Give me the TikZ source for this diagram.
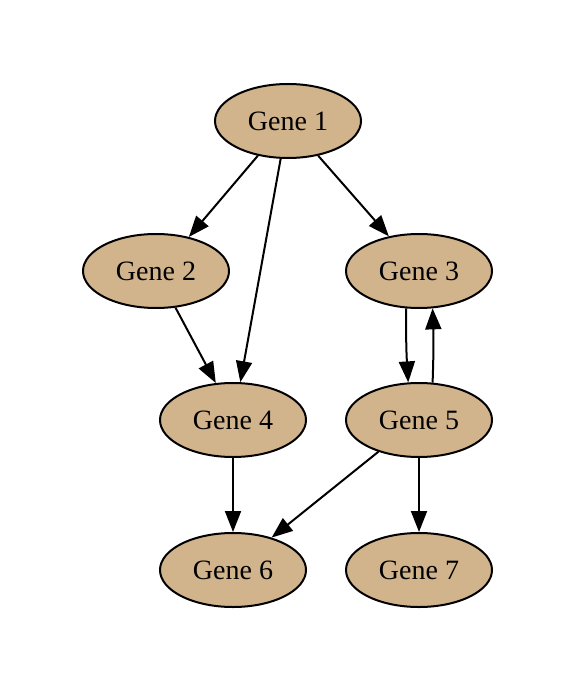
\documentclass[tikz,border=0pt]{standalone}
\usepackage{fontspec}
\setmainfont{Liberation Serif}
\usetikzlibrary{shapes.geometric,arrows.meta}
\definecolor{tanfill}{HTML}{D2B48C}
\begin{document}
\begin{tikzpicture}[x=1pt,y=-1pt,
  gene/.style={ellipse,draw=black,line width=2pt,fill=tanfill,minimum width=146pt,minimum height=74pt,inner sep=0pt,font=\fontsize{28}{32}\selectfont},
  link/.style={line width=2pt,-{Triangle[length=21pt,width=16pt]}}]
\useasboundingbox (0,0) rectangle (578,692);
\node[gene] (g1) at (288,121) {Gene 1};
\node[gene] (g2) at (156,271) {Gene 2};
\node[gene] (g3) at (419,271) {Gene 3};
\node[gene] (g4) at (233,420) {Gene 4};
\node[gene] (g5) at (419,420) {Gene 5};
\node[gene] (g6) at (233,570) {Gene 6};
\node[gene] (g7) at (419,570) {Gene 7};
\draw[link] (g1.229) -- (g2.46);
\draw[link] (g1.311) -- (g3.131.5);
\draw[link] (g1.259) -- (g4.79);
\draw[link] (g2.298) -- (g4.115);
\draw[link] (g3.251) to[bend right=2] (g5.106.6);
\draw[link] (g5.70.6) to[bend right=2] (g3.290.7);
\draw[link] (g4.270) -- (g6.90);
\draw[link] (g5.218.7) -- (g6.40.5);
\draw[link] (g5.270) -- (g7.90);
\end{tikzpicture}
\end{document}
